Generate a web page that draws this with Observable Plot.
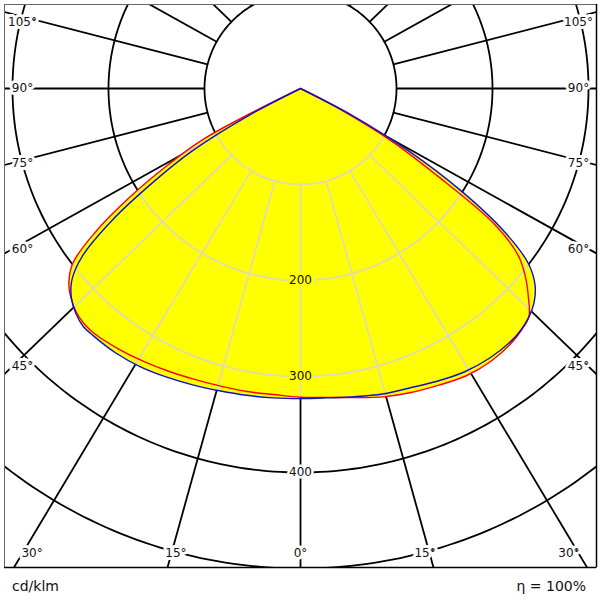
<!DOCTYPE html>
<html><head><meta charset="utf-8">
<script src="https://cdn.jsdelivr.net/npm/d3@7"></script>
<script src="https://cdn.jsdelivr.net/npm/@observablehq/plot@0.6"></script>
<style>
body{margin:0;background:#fff;font-family:"DejaVu Sans",sans-serif;}
#wrap{width:600px;}
#foot{display:flex;justify-content:space-between;height:30px;line-height:30px;font-size:14px;color:#111;padding:1px 14px 0 12px;box-sizing:border-box;}
</style></head><body>
<div id="wrap"><div id="chart"></div><div id="foot"><span id="unit"></span><span id="eff"></span></div></div>
<script>
// ---- data (cd/klm, gamma in degrees from nadir) ----
const gammaDeg  = [0,5,10,15,20,25,30,35,40,42.5,45,47.5,50,52.5,55,57.5,60,62.5,65];
const redLeft   = [321.6,320,320.5,321,322.5,325,328,331,333.5,333,330,324,315,299,261,211,160,112,0];
const redRight  = [321.6,323,327,332.5,337,341,345.5,346.5,344,341,336.5,322,306,286,247,168,110,40,0];
const blueLeft  = [323,323.5,324.5,326,328.5,331.5,334.5,336,336,335.5,331,323.6,311,286,240,183,131,60,0];
const blueRight = [323,323.5,326,329.5,332,336.5,341,343,342.5,340.5,336.5,330,319,299,258,198,130,60,0];
const ringValues  = [100,200,300,400,500];
const ringLabels  = [200,300,400];
const spokeAngles = [0,15,30,45,60,75,90,105,120,135,150,165,180];
const angleLabels = [0,15,30,45,60,75,90,105];
const unitText = "cd/klm";
const effText  = "η = 100%";

// ---- layout ----
const W = 600, H = 570;
const mL = 4, mR = 4, mT = 4, mB = 3;
const pxPerCd = 0.96;
const centerY = 88;                     // px of luminaire centre
const frameW = W - mL - mR, frameBottom = H - mB;
const xMax = (frameW / 2) / pxPerCd;
const yMin = (mT - centerY) / pxPerCd, yMax = (frameBottom - centerY) / pxPerCd;
const spokeStretch = 0.965;
const rad = d => d * Math.PI / 180;

// closed outline: apex -> right half down to nadir -> left half up to apex
function curve(left, right) {
  const pts = [];
  for (let i = gammaDeg.length - 1; i >= 1; i--) {
    const g = gammaDeg[i];
    pts.push({x: right[i] * Math.sin(rad(g)), y: right[i] * Math.cos(rad(g))});
  }
  gammaDeg.forEach((g, i) => pts.push({x: -left[i] * Math.sin(rad(g)), y: left[i] * Math.cos(rad(g))}));
  return pts;
}
const redPts = curve(redLeft, redRight);
const bluePts = curve(blueLeft, blueRight);

const ringPts = ringValues.flatMap(R => d3.range(0, 361, 1).map(a => ({R, x: R * Math.sin(rad(a)), y: R * Math.cos(rad(a))})));
const spokes = spokeAngles.flatMap(g => (g === 0 || g === 180 ? [1] : [-1, 1]).map(side => {
  const ux = side * Math.sin(rad(g)), uy = spokeStretch * Math.cos(rad(g));
  const n = Math.hypot(ux, uy);
  return {x1: ringValues[0] * ux / n, y1: ringValues[0] * uy / n, x2: 900 * ux / n, y2: 900 * uy / n};
}));

// angle label placement on an inset rectangle inside the frame
const insetSide = (frameW / 2 - 18) / pxPerCd;
const insetBottom = (frameBottom - 14 - centerY) / pxPerCd;
const insetTop = (mT + 18 - centerY) / pxPerCd;
const angleLabelData = angleLabels.flatMap(g => (g === 0 ? [1] : [-1, 1]).map(side => {
  const s = Math.sin(rad(g)), c = Math.cos(rad(g));
  const tSide = s > 1e-9 ? insetSide / s : Infinity;
  const tBot = c > 1e-9 ? insetBottom / c : Infinity;
  const t = Math.min(tSide, tBot);
  let y = t * c; if (y < insetTop) y = insetTop;
  return {x: side * t * s, y, text: g + "°"};
}));
const envAtNadir = Math.max(redLeft[0], blueLeft[0]);
const ringLabelData = ringLabels.map(R => ({x: 0, y: R, text: String(R), halo: R < envAtNadir ? "#ffff00" : "#ffffff"}));

const gridBlack = "#000", gridLight = "#e0dbb0";
const smooth = "catmull-rom";
const plot = Plot.plot({
  width: W, height: H,
  marginLeft: mL, marginRight: mR, marginTop: mT, marginBottom: mB,
  x: {domain: [-xMax, xMax], axis: null},
  y: {domain: [yMin, yMax], reverse: true, axis: null},
  style: {fontFamily: "DejaVu Sans", fontSize: "12px", background: "#fff"},
  marks: [
    Plot.line(ringPts, {x: "x", y: "y", z: "R", stroke: gridBlack, strokeWidth: 1.8, clip: "frame"}),
    Plot.link(spokes, {x1: "x1", y1: "y1", x2: "x2", y2: "y2", stroke: gridBlack, strokeWidth: 1.8, clip: "frame"}),
    Plot.line(redPts, {x: "x", y: "y", curve: smooth, fill: "#ffff00", stroke: "none", ariaDescription: "envelope"}),
    Plot.line(bluePts, {x: "x", y: "y", curve: smooth, fill: "#ffff00", stroke: "none", ariaDescription: "envelope"}),
    Plot.line(ringPts, {x: "x", y: "y", z: "R", stroke: gridLight, strokeWidth: 1.8, ariaDescription: "gridlight"}),
    Plot.link(spokes, {x1: "x1", y1: "y1", x2: "x2", y2: "y2", stroke: gridLight, strokeWidth: 1.8, ariaDescription: "gridlight"}),
    Plot.line(redPts, {x: "x", y: "y", curve: smooth, stroke: "#ff0000", strokeWidth: 1.4}),
    Plot.line(bluePts, {x: "x", y: "y", curve: smooth, stroke: "#1010c8", strokeWidth: 1.4}),
    Plot.text(ringLabelData, {x: "x", y: "y", text: "text", fill: "#111", stroke: "halo", strokeWidth: 5, paintOrder: "stroke", fontSize: 12}),
    Plot.text(angleLabelData, {x: "x", y: "y", text: "text", fill: "#111", stroke: "#fff", strokeWidth: 6, paintOrder: "stroke", fontSize: 12}),
    Plot.frame({stroke: "#666", strokeWidth: 1}),
    Plot.ruleX([xMax], {stroke: "#000", strokeWidth: 1.5}),
    Plot.ruleY([yMax], {stroke: "#000", strokeWidth: 1.5})
  ]
});
document.getElementById("chart").appendChild(plot);

// clip the light grid to the yellow envelope
const ns = "http://www.w3.org/2000/svg";
const envGroups = plot.querySelectorAll('g[aria-description="envelope"]');
const defs = document.createElementNS(ns, "defs");
const cp = document.createElementNS(ns, "clipPath");
cp.setAttribute("id", "env-clip");
envGroups.forEach(g => g.querySelectorAll("path").forEach(p => {
  const c = document.createElementNS(ns, "path");
  c.setAttribute("d", p.getAttribute("d"));
  const t = g.getAttribute("transform"); if (t) c.setAttribute("transform", t);
  cp.appendChild(c);
}));
defs.appendChild(cp);
plot.insertBefore(defs, plot.firstChild);
const light = plot.querySelectorAll('g[aria-description="gridlight"]');
if (light.length) {
  const wrapper = document.createElementNS(ns, "g");
  wrapper.setAttribute("clip-path", "url(#env-clip)");
  light[0].parentNode.insertBefore(wrapper, light[0]);
  light.forEach(g => wrapper.appendChild(g));
}
document.getElementById("unit").textContent = unitText;
document.getElementById("eff").textContent = effText;
</script>
</body></html>
